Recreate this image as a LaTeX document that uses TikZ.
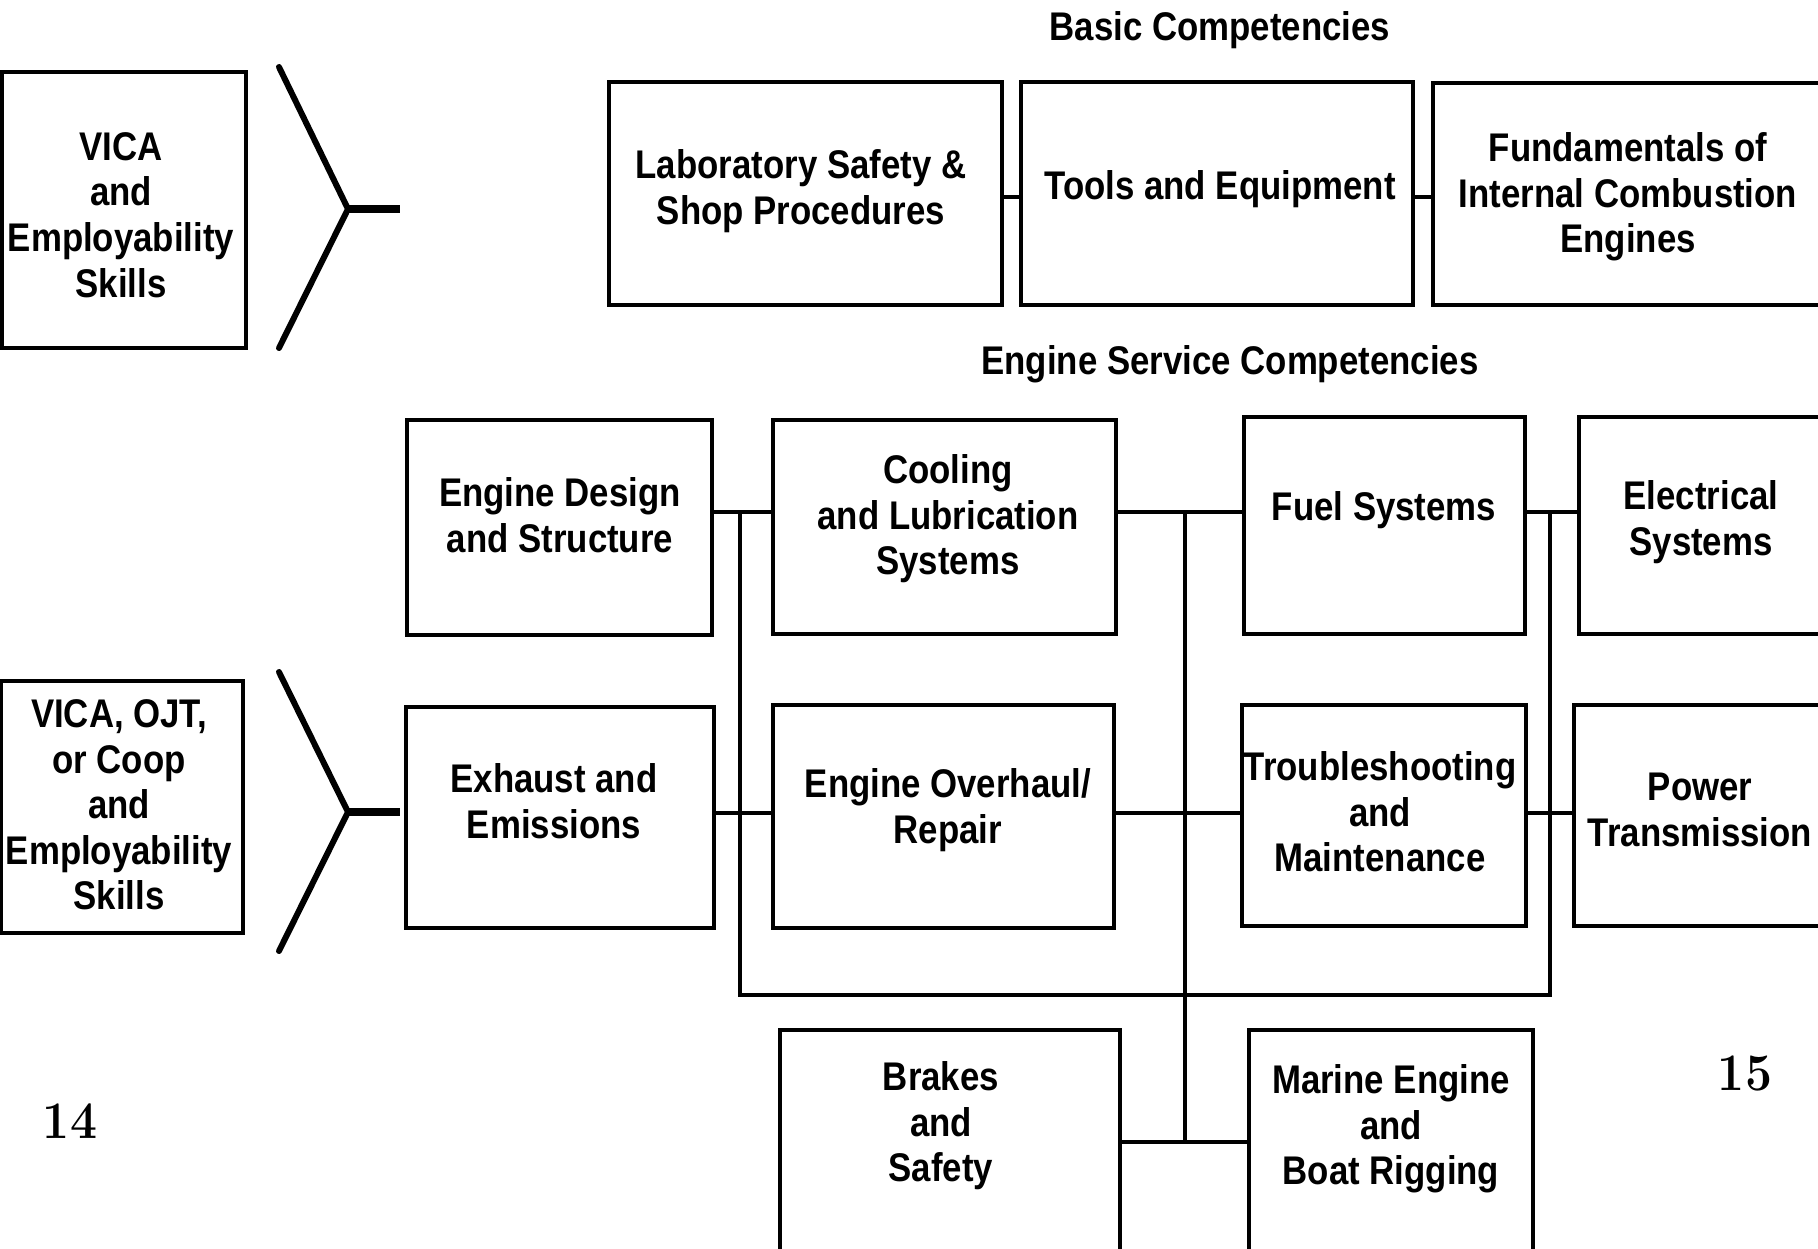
\documentclass[tikz,border=0pt]{standalone}
\usepackage{fontspec}
\newfontfamily\bfont[FakeStretch=0.87]{Liberation Sans}
\begin{document}
\begin{tikzpicture}[x=1pt,y=-1pt,
 box/.style={draw, line width=3.4pt, inner sep=0pt, outer sep=0pt},
 lbl/.style={align=center, font=\bfont\bfseries\fontsize{40}{45.6}\selectfont, inner sep=0pt},
 conn/.style={line width=3.2pt},
 chev/.style={line width=6pt, line cap=round, line join=miter},
 stem/.style={line width=8pt},
 pnum/.style={font=\bfseries\fontsize{48}{48}\selectfont, yscale=1.1, inner sep=0pt}]
\useasboundingbox (0,0) rectangle (1818,1248);
\fill[white] (0,0) rectangle (1818,1248);

% titles
\node[lbl] (tbasic) at (1220,30) {Basic Competencies};
\node[lbl] (tengine) at (1230,364) {Engine Service Competencies};

% boxes
\node[box, minimum width=244, minimum height=276] (vica1) at (124,210) {};
\node[box, minimum width=393, minimum height=223] (lab) at (805.5,193.5) {};
\node[box, minimum width=392, minimum height=223] (tools) at (1217,193.5) {};
\node[box, minimum width=397, minimum height=222] (fund) at (1631.5,194) {};
\node[box, minimum width=305, minimum height=215] (design) at (559.5,527.5) {};
\node[box, minimum width=343, minimum height=214] (cool) at (944.5,527) {};
\node[box, minimum width=281, minimum height=217] (fuel) at (1384.5,525.5) {};
\node[box, minimum width=251, minimum height=217] (elec) at (1704.5,525.5) {};
\node[box, minimum width=242, minimum height=252] (vica2) at (122,807) {};
\node[box, minimum width=308, minimum height=221] (exh) at (560,817.5) {};
\node[box, minimum width=341, minimum height=223] (over) at (943.5,816.5) {};
\node[box, minimum width=284, minimum height=221] (trou) at (1384,815.5) {};
\node[box, minimum width=256, minimum height=221] (power) at (1702,815.5) {};
\node[box, minimum width=340, minimum height=230] (brakes) at (950,1145) {};
\node[box, minimum width=284, minimum height=230] (marine) at (1391,1145) {};

% labels
\node[lbl] (lvica1) at (121,215) {VICA\\and\\Employability\\Skills};
\node[lbl] (llab) at (801,191) {Laboratory Safety \&\\Shop Procedures};
\node[lbl] (ltools) at (1220,189) {Tools and Equipment};
\node[lbl] (lfund) at (1628,197) {Fundamentals of\\Internal Combustion\\Engines};
\node[lbl] (ldesign) at (560,515) {Engine Design\\and Structure};
\node[lbl] (lcool) at (948,519) {Cooling\\and Lubrication\\Systems};
\node[lbl] (lfuel) at (1384,510) {Fuel Systems};
\node[lbl] (lelec) at (1701,522) {Electrical\\Systems};
\node[lbl] (lvica2) at (119,805) {VICA, OJT,\\or Coop\\and\\Employability\\Skills};
\node[lbl] (lexh) at (554,801) {Exhaust and\\Emissions};
\node[lbl] (lover) at (948,810) {Engine Overhaul/\\Repair};
\node[lbl] (ltrou) at (1380,812) {Troubleshooting\\and\\Maintenance};
\node[lbl] (lpower) at (1700,810) {Power\\Transmission};
\node[lbl] (lbrakes) at (941,1126) {Brakes\\and\\Safety};
\node[lbl] (lmarine) at (1391,1129) {Marine Engine\\and\\Boat Rigging};

% page numbers
\node[pnum] (p14) at (70,1121) {14};
\node[pnum] (p15) at (1745,1073) {15};

% chevrons
\coordinate (c1t) at (279,67);
\coordinate (c1v) at (348,209);
\coordinate (c1b) at (279,348);
\coordinate (c1s) at (400,209);
\coordinate (c2t) at (279,672);
\coordinate (c2v) at (348,812);
\coordinate (c2b) at (279,951);
\coordinate (c2s) at (400,812);
\draw[chev] (c1t) -- (c1v) -- (c1b);
\draw[stem] (c1v) -- (c1s);
\draw[chev] (c2t) -- (c2v) -- (c2b);
\draw[stem] (c2v) -- (c2s);

% connector levels
\coordinate (yA) at (0,197);
\coordinate (yR2) at (0,512);
\coordinate (yR3) at (0,813);
\coordinate (yB) at (0,995);
\coordinate (yM) at (0,1142);
\coordinate (xL) at (740,0);
\coordinate (xM) at (1185,0);
\coordinate (xR) at (1550,0);

\draw[conn] (lab.east |- yA) -- (tools.west |- yA);
\draw[conn] (tools.east |- yA) -- (fund.west |- yA);

\draw[conn] (design.east |- yR2) -- (cool.west |- yR2);
\draw[conn] (cool.east |- yR2) -- (fuel.west |- yR2);
\draw[conn] (fuel.east |- yR2) -- (elec.west |- yR2);
\draw[conn] (exh.east |- yR3) -- (over.west |- yR3);
\draw[conn] (over.east |- yR3) -- (trou.west |- yR3);
\draw[conn] (trou.east |- yR3) -- (power.west |- yR3);

\draw[conn] (xL |- yR2) -- (xL |- yB) -- (xR |- yB) -- (xR |- yR2);
\draw[conn] (xM |- yR2) -- (xM |- yM);
\draw[conn] (brakes.east |- yM) -- (marine.west |- yM);
\end{tikzpicture}
\end{document}
